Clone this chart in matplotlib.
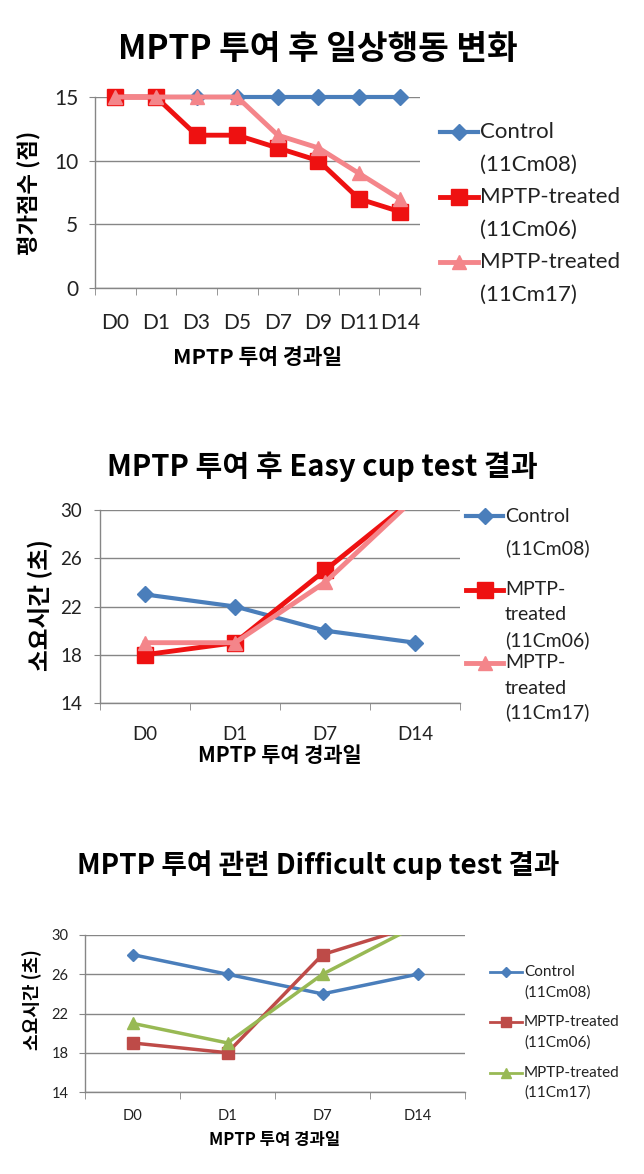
#!/usr/bin/env python3

# plotting
import matplotlib
matplotlib.use("Agg")
import matplotlib.pyplot as plt
from matplotlib.lines import Line2D

# data
days_daily = ["D0", "D1", "D3", "D5", "D7", "D9", "D11", "D14"]
daily_control = [15, 15, 15, 15, 15, 15, 15, 15]
daily_mptp06 = [15, 15, 12, 12, 11, 10, 7, 6]
daily_mptp17 = [15, 15, 15, 15, 12, 11, 9, 7]

days_cup = ["D0", "D1", "D7", "D14"]
easy_control = [23, 22, 20, 19]
easy_mptp06 = [18, 19, 25, 31]
easy_mptp17 = [19, 19, 24, 31]

diff_control = [28, 26, 24, 26]
diff_mptp06 = [19, 18, 28, 31]
diff_mptp17 = [21, 19, 26, 31]

W, H = 644, 1174
KR = ['Noto Sans CJK KR', 'DejaVu Sans']
NARROW = ['Lato', 'DejaVu Sans']

fig = plt.figure(figsize=(W / 100, H / 100), dpi=100)


def px(x, y):
    return x / W, 1 - y / H


def make_axes(left, top, right, bottom):
    return fig.add_axes([left / W, 1 - bottom / H, (right - left) / W, (bottom - top) / H])


def style_axes(ax, cats, ylim, yticks, tick_size, ypad):
    n = len(cats)
    ax.set_xlim(-0.5, n - 0.5)
    ax.set_ylim(*ylim)
    ax.set_yticks(yticks)
    ax.set_xticks(range(n))
    ax.set_xticklabels(cats)
    ax.set_xticks([i - 0.5 for i in range(n + 1)], minor=True)
    ax.tick_params(axis='x', which='major', length=0, pad=tick_size * 1.2)
    ax.tick_params(axis='x', which='minor', length=5, color='#868686', direction='out')
    ax.tick_params(axis='y', length=4, color='#868686', direction='out', pad=ypad)
    for lab in ax.get_xticklabels() + ax.get_yticklabels():
        lab.set_family(NARROW)
        lab.set_fontsize(tick_size)
        lab.set_color('#222222')
    ax.grid(axis='y', color='#868686', linewidth=1)
    ax.set_axisbelow(True)
    for s in ['top', 'right']:
        ax.spines[s].set_visible(False)
    for s in ['left', 'bottom']:
        ax.spines[s].set_color('#868686')
        ax.spines[s].set_linewidth(1)


def legend_entry(x0, x1, y, color, marker, msize, lw, lines, tx, ys, size):
    fig.add_artist(Line2D([x0 / W, x1 / W], [1 - y / H] * 2, color=color, lw=lw,
                          transform=fig.transFigure))
    fig.add_artist(Line2D([(x0 + x1) / 2 / W], [1 - y / H], color=color, marker=marker,
                          markersize=msize, transform=fig.transFigure))
    for text, yy in zip(lines, ys):
        fig.text(*px(tx, yy), text, fontsize=size, family=NARROW, color='#222222',
                 ha='left', va='center')


# ---------- panel 1 ----------
blue, red, pink = '#4A7EBB', '#EE1111', '#F4858A'
ax1 = make_axes(95, 97, 420, 288)
x = range(len(days_daily))
ax1.plot(x, daily_control, color=blue, lw=3, marker='D', ms=8, clip_on=False, zorder=3)
ax1.plot(x, daily_mptp06, color=red, lw=3.5, marker='s', ms=11, clip_on=False, zorder=4)
ax1.plot(x, daily_mptp17, color=pink, lw=3.5, marker='^', ms=10, clip_on=False, zorder=5)
style_axes(ax1, days_daily, (0, 15), [0, 5, 10, 15], 15, 8)
fig.text(*px(318, 50), 'MPTP 투여 후 일상행동 변화', fontsize=24, weight='bold', family=KR,
         ha='center', va='center')
fig.text(*px(258, 358), 'MPTP 투여 경과일', fontsize=15.5, weight='bold', family=KR,
         ha='center', va='center')
fig.text(*px(30, 193), '평가점수 (점)', fontsize=16, weight='bold', family=KR,
         ha='center', va='center', rotation=90)
legend_entry(440, 478, 132, blue, 'D', 8, 3, ['Control', '(11Cm08)'], 480, [132, 165], 16)
legend_entry(440, 478, 197, red, 's', 11, 3.5, ['MPTP-treated', '(11Cm06)'], 480, [197, 230], 16)
legend_entry(440, 478, 262, pink, '^', 10, 3.5, ['MPTP-treated', '(11Cm17)'], 480, [262, 295], 16)

# ---------- panel 2 ----------
ax2 = make_axes(100, 510, 460, 703)
x = range(len(days_cup))
ax2.plot(x, easy_control, color=blue, lw=3, marker='D', ms=8, zorder=3)
ax2.plot(x, easy_mptp06, color=red, lw=3.5, marker='s', ms=11, zorder=4)
ax2.plot(x, easy_mptp17, color=pink, lw=3.5, marker='^', ms=10, zorder=5)
style_axes(ax2, days_cup, (14, 30), [14, 18, 22, 26, 30], 13.5, 9)
fig.text(*px(322, 467), 'MPTP 투여 후 Easy cup test 결과', fontsize=21, weight='bold', family=KR,
         ha='center', va='center')
fig.text(*px(280, 755), 'MPTP 투여 경과일', fontsize=15, weight='bold', family=KR,
         ha='center', va='center')
fig.text(*px(40, 605), '소요시간 (초)', fontsize=17, weight='bold', family=KR,
         ha='center', va='center', rotation=90)
legend_entry(466, 503, 516, blue, 'D', 8, 3, ['Control', '(11Cm08)'], 505, [516, 548], 14)
legend_entry(466, 503, 590, red, 's', 11, 3.5, ['MPTP-', 'treated', '(11Cm06)'], 505,
             [590, 615, 640], 14)
legend_entry(466, 503, 663, pink, '^', 10, 3.5, ['MPTP-', 'treated', '(11Cm17)'], 505,
             [663, 688, 712], 14)

# ---------- panel 3 ----------
blue3, red3, green3 = '#4A7EBB', '#BE4B48', '#98B954'
ax3 = make_axes(85, 935, 465, 1092)
ax3.plot(x, diff_control, color=blue3, lw=2.5, marker='D', ms=6, zorder=3)
ax3.plot(x, diff_mptp06, color=red3, lw=2.5, marker='s', ms=8, zorder=4)
ax3.plot(x, diff_mptp17, color=green3, lw=2.5, marker='^', ms=8, zorder=5)
style_axes(ax3, days_cup, (14, 30), [14, 18, 22, 26, 30], 10.5, 8)
fig.text(*px(318, 865), 'MPTP 투여 관련 Difficult cup test 결과', fontsize=20, weight='bold',
         family=KR, ha='center', va='center')
fig.text(*px(275, 1140), 'MPTP 투여 경과일', fontsize=12, weight='bold', family=KR,
         ha='center', va='center')
fig.text(*px(32, 1000), '소요시간 (초)', fontsize=13, weight='bold', family=KR,
         ha='center', va='center', rotation=90)
legend_entry(490, 522, 972, blue3, 'D', 5, 2, ['Control', '(11Cm08)'], 524, [972, 993], 11)
legend_entry(490, 522, 1022, red3, 's', 7, 2, ['MPTP-treated', '(11Cm06)'], 524,
             [1022, 1043], 11)
legend_entry(490, 522, 1073, green3, '^', 7, 2, ['MPTP-treated', '(11Cm17)'], 524,
             [1073, 1093], 11)

fig.savefig('out.png', dpi=100, facecolor='white')
